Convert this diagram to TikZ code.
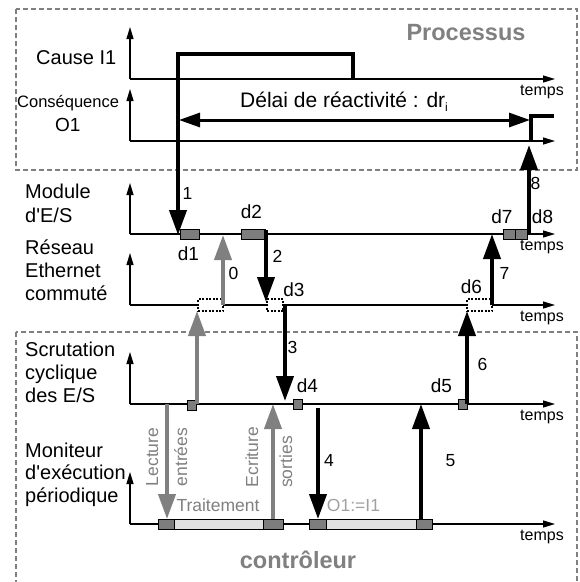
\documentclass[tikz,border=0pt]{standalone}
\usepackage{fontspec}
\setmainfont{Liberation Sans}
\newfontfamily\rawfont{Liberation Sans}
\usetikzlibrary{arrows.meta}
\definecolor{midgray}{RGB}{128,128,128}
\definecolor{boxgray}{RGB}{125,125,125}
\definecolor{lightbar}{RGB}{225,225,225}
\definecolor{paletext}{RGB}{160,160,160}
\begin{document}
\begin{tikzpicture}[x=1pt,y=-1pt,
  bigarrow/.style={line width=4pt,-{Triangle[length=25pt,width=17pt]}},
  grayarrow/.style={bigarrow,draw=midgray,color=midgray},
  frame/.style={draw=midgray,line width=2.8pt,dash pattern=on 5pt off 3pt},
  gbox/.style={draw=black,line width=0.8pt,fill=boxgray,inner sep=0pt,minimum height=10pt},
  lbox/.style={draw=black,line width=0.8pt,fill=lightbar,inner sep=0pt,minimum height=10pt},
  dbox/.style={draw=black,line width=1.4pt,dash pattern=on 2pt off 1.5pt,fill=white,inner sep=0pt,minimum height=12pt},
  lbl/.style={inner sep=0pt,anchor=base west,font=\fontsize{20}{24}\selectfont},
  dlbl/.style={inner sep=0pt,anchor=base,font=\fontsize{19}{23}\selectfont},
  num/.style={inner sep=0pt,anchor=base,font=\fontsize{17.5}{21}\selectfont},
  tlbl/.style={inner sep=0pt,anchor=north,font=\fontsize{16}{19}\selectfont},
  rlbl/.style={inner sep=0pt,anchor=base,rotate=90,text=midgray,font=\fontsize{17.5}{21}\selectfont},
  title/.style={inner sep=0pt,anchor=base,text=midgray,font=\bfseries\fontsize{23.5}{27}\selectfont}
]
\useasboundingbox (0,0) rectangle (580,582);
% frames
\draw[frame] (16,9) rectangle (577,170);
\draw[frame] (16,332) rectangle (577,584);
\node[title] (proc) at (466,40) {Processus};
\node[title] (ctrl) at (298,568) {contrôleur};

% axes
\coordinate (oC) at (130,79);  \coordinate (tC) at (130,27);  \coordinate (eC) at (555,79);
\coordinate (oO) at (130,141); \coordinate (tO) at (130,89);  \coordinate (eO) at (555,141);
\coordinate (oM) at (130,234); \coordinate (tM) at (130,183); \coordinate (eM) at (555,234);
\coordinate (oR) at (130,305); \coordinate (tR) at (130,253); \coordinate (eR) at (555,305);
\coordinate (oS) at (130,404); \coordinate (tS) at (130,352); \coordinate (eS) at (555,404);
\coordinate (oP) at (130,524); \coordinate (tP) at (130,472); \coordinate (eP) at (555,524);
\foreach \r in {C,O,M,R,S,P} {
  \draw[line width=1.2pt,-{Triangle[length=12pt,width=7pt]}] (o\r) -- (t\r);
  \draw[line width=1.2pt,-{Triangle[length=12pt,width=7pt]}] (o\r) -- (e\r);
}
\node[tlbl] (tmC) at (542,85) {temps};
\node[tlbl] (tmM) at (542,240) {temps};
\node[tlbl] (tmR) at (542,311) {temps};
\node[tlbl] (tmS) at (542,410) {temps};
\node[tlbl] (tmP) at (542,530) {temps};

% left labels
\node[lbl] (l1) at (36,64) {Cause I1};
\node[lbl,font=\fontsize{16.5}{20}\selectfont] (l2) at (17,107) {Conséquence};
\node[lbl,font=\fontsize{19}{23}\selectfont] (l3) at (55,131) {O1};
\node[lbl] (l4) at (25,198) {Module};
\node[lbl] (l5) at (25,222) {\rawfont d'E/S};
\node[lbl] (l6) at (25,254) {Réseau};
\node[lbl] (l7) at (25,277) {Ethernet};
\node[lbl] (l8) at (25,300) {commuté};
\node[lbl] (l9) at (25,356) {Scrutation};
\node[lbl] (l10) at (25,379) {cyclique};
\node[lbl] (l11) at (25,402) {des E/S};
\node[lbl] (l12) at (25,457) {Moniteur};
\node[lbl] (l13) at (25,479) {\rawfont d'exécution};
\node[lbl] (l14) at (25,502) {périodique};

% process signals
\coordinate (p0) at (353,79); \coordinate (p1) at (353,54); \coordinate (p2) at (178,54); \coordinate (p3) at (178,235);
\draw[line width=4pt,-{Triangle[length=25pt,width=17pt]}] (p0) -- (p1) -- (p2) -- (p3);
\coordinate (q0) at (531,141); \coordinate (q1) at (531,116); \coordinate (q2) at (554,116);
\draw[line width=3.5pt] (q0) -- (q1) -- (q2);
\coordinate (dl) at (179,120); \coordinate (dr) at (530,120);
\draw[line width=3pt,{Triangle[length=21pt,width=14pt]}-{Triangle[length=21pt,width=14pt]}] (dl) -- (dr);
\node[inner sep=0pt,anchor=base west,font=\fontsize{21}{25}\selectfont] (delai) at (240,107) {Délai de réactivité : dr\raisebox{-4pt}{\fontsize{12}{14}\selectfont i}};

% module row boxes
\node[gbox,minimum width=19pt] (b1) at (189.5,234) {};
\node[gbox,minimum width=24pt] (b2) at (253,234) {};
\node[gbox,minimum width=12pt] (b7) at (509,234) {};
\node[gbox,minimum width=12pt] (b8) at (521,234) {};
% network boxes
\node[dbox,minimum width=25pt] (r0) at (210.5,305) {};
\node[dbox,minimum width=16pt] (r3) at (275,305) {};
\node[dbox,minimum width=25pt] (r6) at (479.5,305) {};
% scan squares
\node[gbox,minimum width=9pt] (s0) at (192,405) {};
\node[gbox,minimum width=9pt] (s4) at (298,404) {};
\node[gbox,minimum width=9pt] (s5) at (463,404) {};
% periodic bars
\node[gbox,minimum width=16pt] (pa) at (166,524) {};
\node[lbox,minimum width=89pt] (pb) at (218.5,524) {};
\node[gbox,minimum width=20pt] (pc) at (273,524) {};
\node[gbox,minimum width=17pt] (qa) at (317.5,524) {};
\node[lbox,minimum width=90pt] (qb) at (371,524) {};
\node[gbox,minimum width=16pt] (qc) at (424,524) {};

% arrows
\coordinate (a0s) at (223,305); \coordinate (a0e) at (223,235);
\draw[grayarrow] (a0s) -- (a0e);
\coordinate (a2s) at (266,230); \coordinate (a2e) at (266,302);
\draw[bigarrow] (a2s) -- (a2e);
\coordinate (gus) at (197,404); \coordinate (gue) at (197,311);
\draw[grayarrow] (gus) -- (gue);
\coordinate (a3s) at (285,305); \coordinate (a3e) at (285,401);
\draw[bigarrow] (a3s) -- (a3e);
\coordinate (les) at (167,404); \coordinate (lee) at (167,519);
\draw[grayarrow] (les) -- (lee);
\coordinate (ecs) at (273,519); \coordinate (ece) at (273,404);
\draw[grayarrow] (ecs) -- (ece);
\coordinate (a4s) at (318,408); \coordinate (a4e) at (318,519);
\draw[bigarrow] (a4s) -- (a4e);
\coordinate (a5s) at (421,519); \coordinate (a5e) at (421,404);
\draw[bigarrow] (a5s) -- (a5e);
\coordinate (a6s) at (467,404); \coordinate (a6e) at (467,311);
\draw[bigarrow] (a6s) -- (a6e);
\coordinate (a7s) at (492,305); \coordinate (a7e) at (492,234);
\draw[bigarrow] (a7s) -- (a7e);
\coordinate (a8s) at (529,234); \coordinate (a8e) at (529,145);
\draw[bigarrow] (a8s) -- (a8e);

% d labels
\node[dlbl] (d1) at (188.5,260) {d1};
\node[dlbl] (d2) at (251.5,218) {d2};
\node[dlbl] (d3) at (294,296) {d3};
\node[dlbl] (d4) at (307.5,392) {d4};
\node[dlbl] (d5) at (441.5,392) {d5};
\node[dlbl] (d6) at (471.5,293) {d6};
\node[dlbl] (d7) at (502,223) {d7};
\node[dlbl] (d8) at (542.5,223) {d8};
% numbers
\node[num] (n1) at (187.5,199) {1};
\node[num] (n0) at (233.5,279) {0};
\node[num] (n2) at (277.5,262) {2};
\node[num] (n3) at (292.5,353) {3};
\node[num] (n4) at (329,466) {4};
\node[num] (n5) at (450.5,466) {5};
\node[num] (n6) at (482.5,370) {6};
\node[num] (n7) at (504.5,279) {7};
\node[num] (n8) at (535.5,189) {8};

% gray texts
\node[rlbl] (lec) at (158,457) {Lecture};
\node[rlbl] (ent) at (187,457) {entrées};
\node[rlbl] (ecr) at (258,457) {Ecriture};
\node[rlbl] (sor) at (292,462) {sorties};
\node[inner sep=0pt,anchor=base,text=midgray,font=\fontsize{17.5}{21}\selectfont] (trt) at (218,511) {Traitement};
\node[inner sep=0pt,anchor=base,text=paletext,font=\fontsize{17.5}{21}\selectfont] (asg) at (353.5,511) {O1:=I1};
\end{tikzpicture}
\end{document}
